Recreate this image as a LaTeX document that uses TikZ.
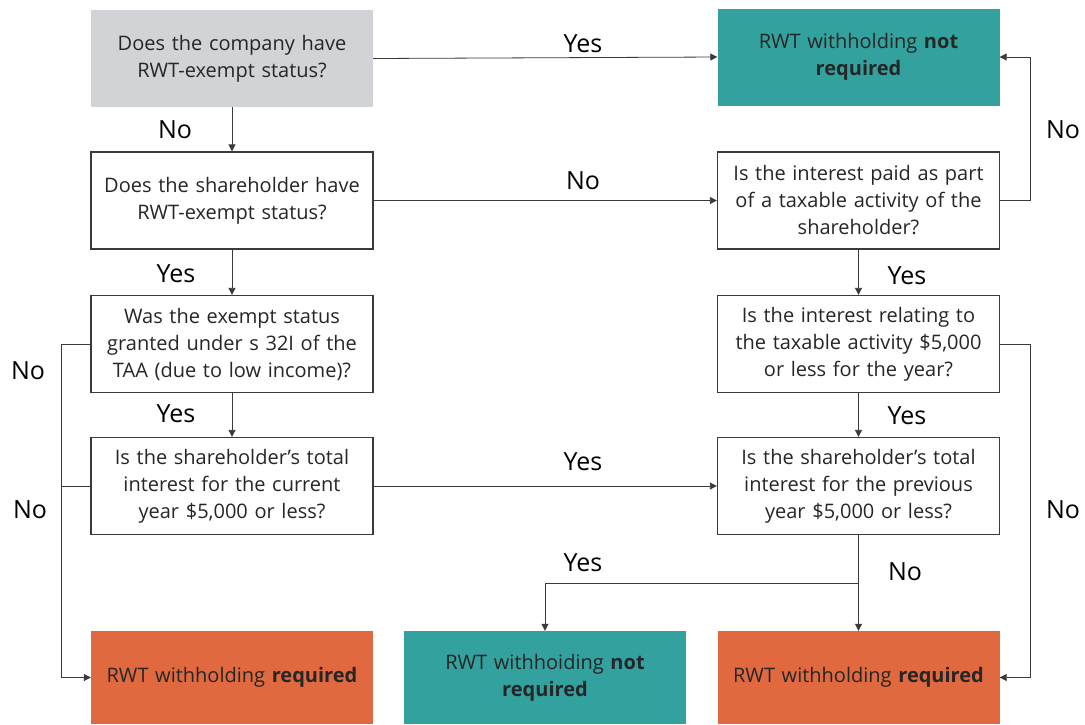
\documentclass[tikz,border=0pt]{standalone}
\usepackage{fontspec}
\setmainfont{Open Sans}
\usetikzlibrary{arrows.meta,calc}
\definecolor{boxgray}{HTML}{D1D3D6}
\definecolor{tealc}{HTML}{33A19E}
\definecolor{orangec}{HTML}{E1693F}
\definecolor{linec}{HTML}{3A3A3A}
\begin{document}
\begin{tikzpicture}[x=1pt,y=-1pt,
  box/.style={minimum width=282pt,minimum height=97pt,text width=276pt,align=center,inner sep=0pt,
    font=\fontsize{20}{27}\selectfont,text=black!85},
  qbox/.style={box,draw=linec,line width=1.3pt,fill=white},
  graybox/.style={box,fill=boxgray},
  tealbox/.style={box,fill=tealc},
  orangebox/.style={box,fill=orangec,minimum height=93pt},
  conn/.style={draw=linec,line width=0.8pt},
  arr/.style={conn,-{Triangle[length=7pt,width=7pt]}},
  lbl/.style={font=\fontsize{25}{28}\selectfont,text=black,inner sep=0pt}]
\useasboundingbox[fill=white] (0,0) rectangle (1085,724);
\node[graybox] (A) at (232,58.5) {Does the company have\\RWT-exempt status?};
\node[tealbox] (B) at (858.5,57) {RWT withholding \textbf{not}\\\textbf{required}};
\node[qbox] (C) at (232,200.5) {Does the shareholder have\\RWT-exempt status?};
\node[qbox] (D) at (232,344) {Was the exempt status\\granted under s 32I of the\\TAA (due to low income)?};
\node[qbox] (E) at (232,486) {Is the shareholder’s total\\interest for the current\\year \$5,000 or less?};
\node[qbox] (F) at (858.5,200.5) {Is the interest paid as part\\of a taxable activity of the\\shareholder?};
\node[qbox] (G) at (858.5,344) {Is the interest relating to\\the taxable activity \$5,000\\or less for the year?};
\node[qbox] (H) at (858.5,486) {Is the shareholder’s total\\interest for the previous\\year \$5,000 or less?};
\node[orangebox] (I) at (232,677.5) {RWT withholding \textbf{required}};
\node[tealbox,minimum height=93pt] (J) at (545,677.5) {RWT withhoiding \textbf{not}\\\textbf{required}};
\node[orangebox] (K) at (858.5,677.5) {RWT withholding \textbf{required}};
% connectors
\draw[arr] (A.east) -- (B.west);
\draw[arr] (A.south) -- (C.north);
\draw[arr] (C.east) -- (F.west);
\draw[arr] (C.south) -- (D.north);
\draw[arr] (D.south) -- (E.north);
\draw[arr] (E.east) -- (H.west);
\draw[arr] (D.west) -- ++(-29,0) coordinate (lft) |- (I.west);
\draw[conn] (E.west) -- (E.west -| lft);
\draw[arr] (F.east) -- ++(30,0) |- (B.east);
\draw[arr] (F.south) -- (G.north);
\draw[arr] (G.south) -- (H.north);
\draw[arr] (G.east) -- ++(30,0) |- (K.east);
\draw[arr] (H.south) -- (K.north);
\coordinate (br) at ($(H.south)+(0,48)$);
\draw[arr] (br) -| (J.north);
% labels
\node[lbl] (l1) at (583,44) {Yes};
\node[lbl] (l2) at (175,130) {No};
\node[lbl] (l3) at (583,181) {No};
\node[lbl] (l4) at (176,274) {Yes};
\node[lbl] (l5) at (176,414) {Yes};
\node[lbl] (l6) at (28,371) {No};
\node[lbl] (l7) at (30,510) {No};
\node[lbl] (l8) at (583,462) {Yes};
\node[lbl] (l9) at (1063,130) {No};
\node[lbl] (l10) at (907,276) {Yes};
\node[lbl] (l11) at (907,416) {Yes};
\node[lbl] (l12) at (1063,510) {No};
\node[lbl] (l13) at (905,572) {No};
\node[lbl] (l14) at (583,563) {Yes};
\end{tikzpicture}
\end{document}
